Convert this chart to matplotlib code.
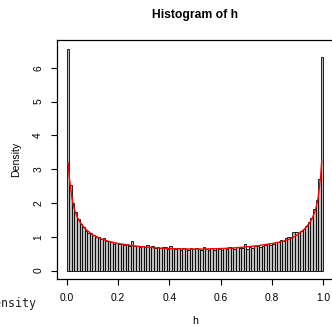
import matplotlib
matplotlib.use('Agg')
import matplotlib.pyplot as plt
import numpy as np

plt.rcParams['font.family'] = ['Liberation Sans', 'DejaVu Sans']

# Densidades dos 100 intervalos (largura 0.01)
dens = [6.55, 2.53, 2.00, 1.72, 1.52, 1.38, 1.30, 1.18, 1.12, 1.10,
        1.06, 1.00, 0.98, 0.92, 0.95, 0.86, 0.88, 0.84, 0.80, 0.82,
        0.78, 0.80, 0.76, 0.79, 0.74, 0.86, 0.72, 0.74, 0.70, 0.73,
        0.71, 0.75, 0.69, 0.72, 0.68, 0.70, 0.66, 0.69, 0.71, 0.65,
        0.72, 0.67, 0.64, 0.66, 0.62, 0.68, 0.65, 0.60, 0.66, 0.63,
        0.67, 0.64, 0.61, 0.70, 0.64, 0.62, 0.68, 0.60, 0.66, 0.65,
        0.62, 0.67, 0.64, 0.69, 0.66, 0.64, 0.70, 0.66, 0.68, 0.78,
        0.65, 0.70, 0.68, 0.72, 0.72, 0.70, 0.74, 0.76, 0.80, 0.76,
        0.80, 0.83, 0.85, 0.90, 0.88, 0.96, 0.99, 1.00, 1.15, 1.15,
        1.10, 1.18, 1.24, 1.32, 1.45, 1.55, 1.82, 2.08, 2.71, 6.33]
bin_edges = np.arange(101) / 100

# Curva de densidade (vermelha)
curve_x = [0.005, 0.01, 0.02, 0.03, 0.04, 0.05, 0.07, 0.10, 0.13, 0.16,
           0.20, 0.25, 0.30, 0.35, 0.40, 0.45, 0.50, 0.55, 0.60, 0.65,
           0.70, 0.75, 0.80, 0.84, 0.87, 0.90, 0.93, 0.95, 0.96, 0.97,
           0.98, 0.99, 0.994]
curve_y = [3.20, 2.75, 2.15, 1.80, 1.60, 1.45, 1.25, 1.06, 0.95, 0.87,
           0.80, 0.74, 0.70, 0.67, 0.65, 0.64, 0.635, 0.64, 0.65, 0.67,
           0.70, 0.74, 0.80, 0.86, 0.93, 1.06, 1.25, 1.45, 1.60, 1.80,
           2.15, 2.80, 3.25]

x_ticks = [0.0, 0.2, 0.4, 0.6, 0.8, 1.0]
y_ticks = [0, 1, 2, 3, 4, 5, 6]

W, H = 332, 328
fig = plt.figure(figsize=(W / 100, H / 100), dpi=100)
ax = fig.add_axes([56.5 / W, (H - 279.4) / H, 277 / W, (279.4 - 40.3) / H])

ax.bar(bin_edges[:-1], dens, width=0.01, align='edge',
       facecolor='#bebebe', edgecolor='black', linewidth=0.6)
ax.plot(curve_x, curve_y, color='red', linewidth=1.0)

ymax = max(dens)
ax.set_xlim(-0.04, 1.04)
ax.set_ylim(-0.04 * ymax, 1.04 * ymax)

ax.set_xticks(x_ticks)
ax.set_xticklabels([f'{v:.1f}' for v in x_ticks])
ax.set_yticks(y_ticks)
ax.set_yticklabels([str(v) for v in y_ticks], rotation=90, va='center')
ax.tick_params(direction='out', length=4, width=0.8, pad=5.5, labelsize=7.4)
for s in ax.spines.values():
    s.set_linewidth(0.9)

ax.set_xlabel('h', fontsize=7.6, labelpad=10)
ax.set_ylabel('Density', fontsize=7.6, labelpad=9)
fig.text(195 / W, (H - 15) / H, 'Histogram of h', fontsize=8.7,
         fontweight='bold', ha='center', va='center')

# texto cortado no canto inferior esquerdo
fig.text(36 / W, (H - 303) / H, 'Density', family='DejaVu Sans Mono',
         fontsize=8.4, ha='right', va='center', color='#222222')

fig.savefig('out.png', dpi=100)
